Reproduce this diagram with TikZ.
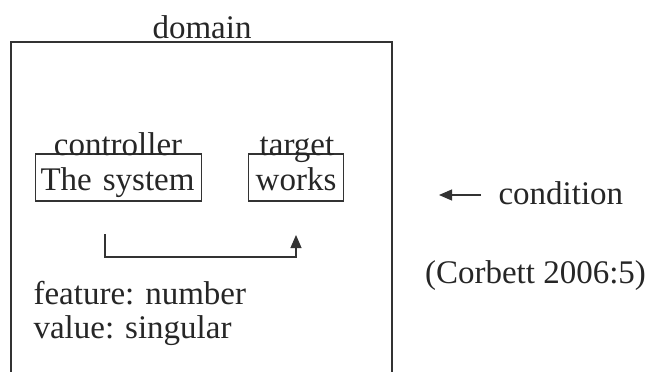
\documentclass[tikz,border=0pt]{standalone}
\usepackage{fontspec}
\setmainfont{Liberation Serif}
\usetikzlibrary{arrows.meta}
\begin{document}
\begin{tikzpicture}[x=1pt,y=-1pt,
  line width=1.1pt, draw=black!80,
  lbl/.style={font=\fontsize{33}{38}\selectfont, text=black!85, inner sep=0pt},
  wordbox/.style={draw, line width=1.1pt, inner xsep=5pt, inner ysep=7pt,
    text height=29pt, text depth=4pt, minimum height=47pt,
    font=\fontsize{33}{38}\selectfont, text=black!85},
  tip/.style={-{Triangle[length=13pt,width=11pt]}}]
\useasboundingbox (0,0) rectangle (645,372);

% open domain frame
\draw (11,372) -- (11,42) -- (392,42) -- (392,372);
\node[lbl, anchor=base] (domain) at (202,38) {domain};

% controller and target
\node[wordbox, text width=156pt, align=left, anchor=west] (ctrl) at (35,177.5) {The system};
\node[wordbox, text width=85pt, align=center, anchor=west] (targ) at (248,177.5) {works};
\node[lbl, anchor=base] (ctrllbl) at (118,155) {controller};
\node[lbl, anchor=base] (targlbl) at (297,155) {target};

% agreement arrow
\coordinate (a1) at (105,234);
\coordinate (a2) at (296,235);
\draw[tip] (a1) -- (105,257) -- (296,257) -- (a2);

% feature description
\node[lbl, anchor=base west] (feat) at (33,304) {feature: number};
\node[lbl, anchor=base west] (val) at (33,338) {value: singular};

% condition
\coordinate (c1) at (481,195);
\coordinate (c2) at (439,195);
\draw[tip] (c1) -- (c2);
\node[lbl, anchor=base west] (cond) at (498,204) {condition};

\node[lbl, anchor=base] (src) at (535.5,283) {(Corbett 2006:5)};
\end{tikzpicture}
\end{document}
